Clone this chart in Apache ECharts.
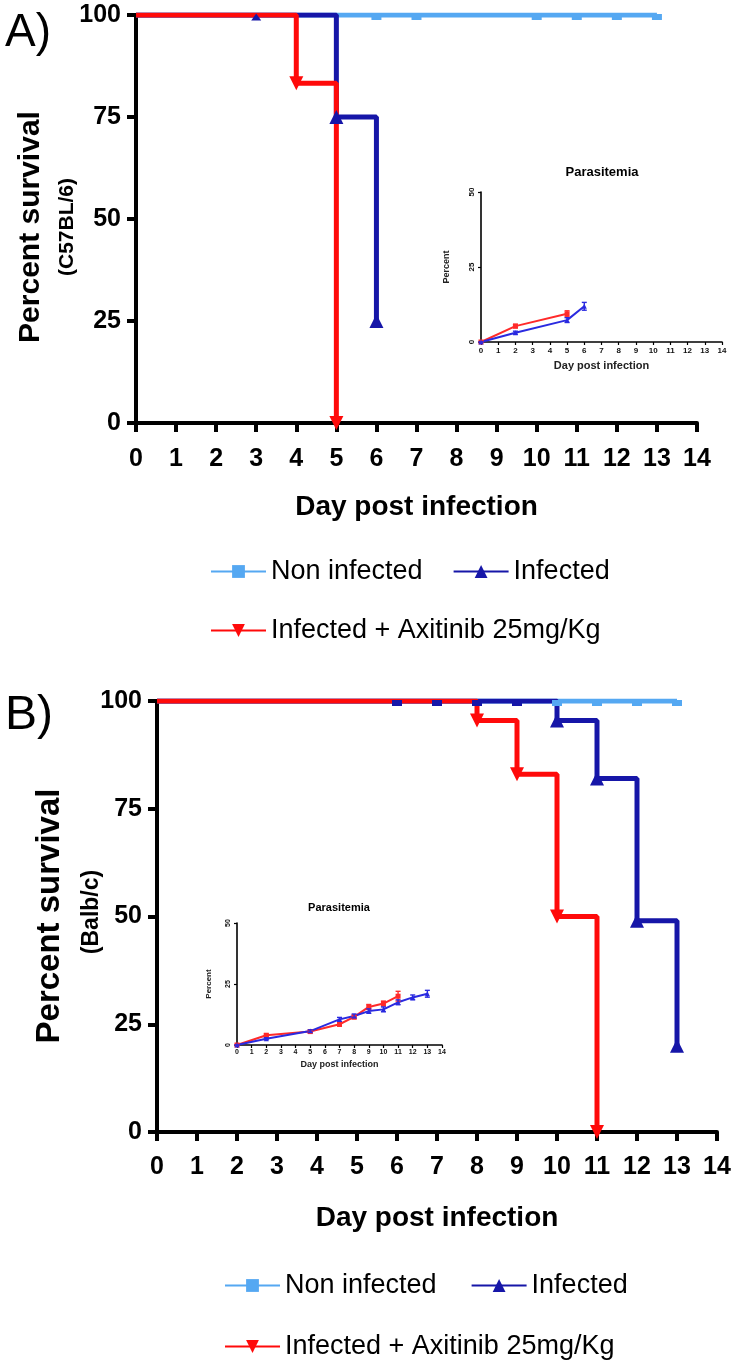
<!DOCTYPE html>
<html><head><meta charset="utf-8">
<script src="https://cdn.jsdelivr.net/npm/echarts@6/dist/echarts.min.js"></script>
<style>html,body{margin:0;padding:0;background:#fff}#c{width:733px;height:1365px}</style>
</head><body><div id="c"></div>
<script>
// ---------- DATA ----------
const dayTicks = [0,1,2,3,4,5,6,7,8,9,10,11,12,13,14];
const survivalTicks = [0,25,50,75,100];
const parasitemiaTicks = [0,25,50];
const seriesNames = ['Non infected','Infected','Infected + Axitinib 25mg/Kg'];

// Panel A (C57BL/6) Kaplan-Meier event points [day, % survival]
const aNonInfected = [[0,100],[13,100]];
const aInfected = [[0,100],[5,75],[6,25]];
const aAxitinib = [[0,100],[4,83.3],[5,0]];
const aNonInfectedCensor = [[6,100],[7,100],[10,100],[11,100],[12,100],[13,100]];
const aInfectedCensor = [[3,100]];
const aInfectedDrops = [[5,75],[6,25]];
const aAxitinibDrops = [[4,83.3],[5,0]];

// Panel B (Balb/c)
const bNonInfected = [[0,100],[13,100]];
const bInfected = [[0,100],[10,95.5],[11,82],[12,49],[13,20]];
const bAxitinib = [[0,100],[8,95.5],[9,83],[10,50],[11,0]];
const bNonInfectedCensor = [[10,100],[11,100],[12,100],[13,100]];
const bInfectedCensor = [[6,100],[7,100],[8,100],[9,100]];
const bInfectedDrops = [[10,95.5],[11,82],[12,49],[13,20]];
const bAxitinibDrops = [[8,95.5],[9,83],[10,50],[11,0]];

// Parasitemia insets [day], [percent], [error]
const aParaRedDays = [0,2,5];
const aParaRed = [0,5.3,9.4];
const aParaRedErr = [0,0.6,1.0];
const aParaBlueDays = [0,2,5,6];
const aParaBlue = [0,3.1,7.3,11.9];
const aParaBlueErr = [0,0.5,0.8,1.3];

const bParaRedDays = [0,2,5,7,8,9,10,11];
const bParaRed = [0,4.0,5.5,8.5,11.5,15.6,17.0,20.0];
const bParaRedErr = [0,0.5,0.5,0.8,0.8,1.0,1.0,2.0];
const bParaBlueDays = [0,2,5,7,8,9,10,11,12,13];
const bParaBlue = [0,2.6,5.7,10.5,11.9,13.9,14.6,17.5,19.5,21.0];
const bParaBlueErr = [0,0.4,0.5,0.8,0.8,0.9,1.0,1.0,1.0,1.4];

// ---------- STYLE ----------
const FONT = 'Liberation Sans, Arial, sans-serif';
const C_LB = '#55a8f2', C_DB = '#1616a8', C_RED = '#ff0a0a';
const C_IB = '#2a2ae0', C_IR = '#ff2a2a';

const chart = echarts.init(document.getElementById('c'), null, {renderer:'canvas'});

function mainX(gi, margin, gap){
  return {gridIndex:gi, type:'value', min:0, max:14, interval:1,
    name:'Day post infection', nameLocation:'middle', nameGap:gap,
    nameTextStyle:{fontFamily:FONT, fontWeight:'bold', fontSize:28, color:'#000'},
    axisLine:{lineStyle:{color:'#000', width:4}},
    axisTick:{show:true, length:9, lineStyle:{color:'#000', width:4}},
    axisLabel:{fontFamily:FONT, fontWeight:'bold', fontSize:25, color:'#000', margin:margin,
      formatter:v=>dayTicks.includes(v)?String(v):''},
    splitLine:{show:false}};
}
function mainY(gi){
  return {gridIndex:gi, type:'value', min:0, max:100, interval:25,
    axisLine:{show:true, lineStyle:{color:'#000', width:4}},
    axisTick:{show:true, length:9, lineStyle:{color:'#000', width:4}},
    axisLabel:{fontFamily:FONT, fontWeight:'bold', fontSize:25, color:'#000', margin:15,
      formatter:v=>survivalTicks.includes(v)?String(v):''},
    splitLine:{show:false}};
}
function insetX(gi, fs, nfs, margin, gap){
  return {gridIndex:gi, type:'value', min:0, max:14, interval:1,
    name:'Day post infection', nameLocation:'middle', nameGap:gap,
    nameTextStyle:{fontFamily:FONT, fontWeight:'bold', fontSize:nfs, color:'#222'},
    axisLine:{lineStyle:{color:'#000', width:1.6}},
    axisTick:{show:true, length:3, lineStyle:{color:'#000', width:1.2}},
    axisLabel:{fontFamily:FONT, fontWeight:'bold', fontSize:fs, color:'#111', margin:margin},
    splitLine:{show:false}};
}
function insetY(gi, fs, nfs, gap){
  return {gridIndex:gi, type:'value', min:0, max:50, interval:25,
    name:'Percent', nameLocation:'middle', nameGap:gap, nameRotate:90,
    nameTextStyle:{fontFamily:FONT, fontWeight:'bold', fontSize:nfs, color:'#222'},
    axisLine:{show:true, lineStyle:{color:'#000', width:1.6}},
    axisTick:{show:true, length:3, lineStyle:{color:'#000', width:1.2}},
    axisLabel:{fontFamily:FONT, fontWeight:'bold', fontSize:fs, color:'#111', margin:5, rotate:90,
      formatter:v=>parasitemiaTicks.includes(v)?String(v):''},
    splitLine:{show:false}};
}
function stepLine(name, gi, data, color, symbol, rot){
  return {name:name, type:'line', xAxisIndex:gi, yAxisIndex:gi, step:'end', data:data,
    showSymbol:false, symbol:symbol, symbolRotate:rot||0, symbolSize:12,
    lineStyle:{color:color, width:5}, itemStyle:{color:color}, silent:true, z:3};
}
function marks(gi, data, color, symbol, size, rot, offset){
  return {type:'scatter', xAxisIndex:gi, yAxisIndex:gi, data:data, symbol:symbol,
    symbolSize:size, symbolRotate:rot||0, symbolOffset:offset||[0,0],
    itemStyle:{color:color, opacity:1}, silent:true, z:4};
}
function paraLine(gi, days, vals, color, symbol){
  return {type:'line', xAxisIndex:gi, yAxisIndex:gi, data:days.map((d,i)=>[d, vals[i]]),
    symbol:symbol, symbolSize:5, showSymbol:true, lineStyle:{color:color, width:2},
    itemStyle:{color:color}, silent:true, z:3};
}
function errBars(gi, days, vals, errs, color){
  return {type:'custom', xAxisIndex:gi, yAxisIndex:gi, silent:true, z:4,
    data: days.map((d,i)=>[d, vals[i]-errs[i], vals[i]+errs[i]]),
    renderItem:(params, api)=>{
      const lo = api.coord([api.value(0), api.value(1)]);
      const hi = api.coord([api.value(0), api.value(2)]);
      const w = 2.5;
      const st = {stroke:color, lineWidth:1.4};
      return {type:'group', children:[
        {type:'line', shape:{x1:lo[0],y1:lo[1],x2:hi[0],y2:hi[1]}, style:st},
        {type:'line', shape:{x1:hi[0]-w,y1:hi[1],x2:hi[0]+w,y2:hi[1]}, style:st},
        {type:'line', shape:{x1:lo[0]-w,y1:lo[1],x2:lo[0]+w,y2:lo[1]}, style:st}]};
    }};
}
function txt(text, x, y, font, rot, align){
  return {type:'text', x:x, y:y, rotation:rot||0, silent:true,
    style:{text:text, font:font, fill:'#000', align:align||'center', verticalAlign:'middle',
      textAlign:align||'center', textVerticalAlign:'middle'}};
}

const legendText = {fontFamily:FONT, fontSize:27, color:'#000'};
const option = {
  animation:false,
  backgroundColor:'#fff',
  grid:[
    {left:136, top:15, width:561, height:408, outerBoundsMode:'none', containLabel:false},
    {left:481, top:192, width:241, height:150, outerBoundsMode:'none', containLabel:false},
    {left:157, top:701, width:560, height:431, outerBoundsMode:'none', containLabel:false},
    {left:237, top:923, width:205, height:122, outerBoundsMode:'none', containLabel:false}
  ],
  xAxis:[ mainX(0, 24, 70), insetX(1, 8, 11, 5, 18), mainX(2, 23, 72), insetX(3, 7, 9, 4, 15) ],
  yAxis:[ mainY(0), insetY(1, 8, 9, 30), mainY(2), insetY(3, 7, 8, 24) ],
  legend:[
    {data:[seriesNames[0], seriesNames[1]], left:205, top:553, itemWidth:55, itemHeight:16, itemGap:30,
      textStyle:legendText, selectedMode:false},
    {data:[seriesNames[2]], left:205, top:612, itemWidth:55, itemHeight:16, textStyle:legendText, selectedMode:false},
    {data:[seriesNames[0], seriesNames[1]], left:219, top:1267, itemWidth:55, itemHeight:16, itemGap:34,
      textStyle:legendText, selectedMode:false},
    {data:[seriesNames[2]], left:219, top:1328, itemWidth:55, itemHeight:16, textStyle:legendText, selectedMode:false}
  ],
  graphic:[
    txt('A)', 5, 33, '46px ' + FONT, 0, 'left'),
    txt('B)', 5, 716, '48px ' + FONT, 0, 'left'),
    txt('Percent survival', 31, 227, 'bold 30px ' + FONT, Math.PI/2),
    txt('(C57BL/6)', 67, 227, 'bold 21px ' + FONT, Math.PI/2),
    txt('Percent survival', 50, 916, 'bold 33px ' + FONT, Math.PI/2),
    txt('(Balb/c)', 92, 912, 'bold 23px ' + FONT, Math.PI/2),
    txt('Parasitemia', 602, 172, 'bold 13px ' + FONT),
    txt('Parasitemia', 339, 908, 'bold 11px ' + FONT)
  ],
  series:[
    stepLine(seriesNames[0], 0, aNonInfected, C_LB, 'rect'),
    stepLine(seriesNames[1], 0, aInfected, C_DB, 'triangle'),
    stepLine(seriesNames[2], 0, aAxitinib, C_RED, 'triangle', 180),
    marks(0, aNonInfectedCensor, C_LB, 'rect', [10,6], 0, [0,2]),
    marks(0, aInfectedCensor, C_DB, 'triangle', [10,7], 0, [0,2]),
    marks(0, aInfectedDrops, C_DB, 'triangle', 14),
    marks(0, aAxitinibDrops, C_RED, 'triangle', 14, 180),

    stepLine(seriesNames[0], 2, bNonInfected, C_LB, 'rect'),
    stepLine(seriesNames[1], 2, bInfected, C_DB, 'triangle'),
    stepLine(seriesNames[2], 2, bAxitinib, C_RED, 'triangle', 180),
    marks(2, bNonInfectedCensor, C_LB, 'rect', [10,6], 0, [0,2]),
    marks(2, bInfectedCensor, C_DB, 'rect', [10,6], 0, [0,2]),
    marks(2, bInfectedDrops, C_DB, 'triangle', 14),
    marks(2, bAxitinibDrops, C_RED, 'triangle', 14, 180),

    paraLine(1, aParaRedDays, aParaRed, C_IR, 'rect'),
    paraLine(1, aParaBlueDays, aParaBlue, C_IB, 'triangle'),
    errBars(1, aParaRedDays, aParaRed, aParaRedErr, C_IR),
    errBars(1, aParaBlueDays, aParaBlue, aParaBlueErr, C_IB),

    paraLine(3, bParaRedDays, bParaRed, C_IR, 'rect'),
    paraLine(3, bParaBlueDays, bParaBlue, C_IB, 'triangle'),
    errBars(3, bParaRedDays, bParaRed, bParaRedErr, C_IR),
    errBars(3, bParaBlueDays, bParaBlue, bParaBlueErr, C_IB)
  ]
};
chart.setOption(option);
</script></body></html>
